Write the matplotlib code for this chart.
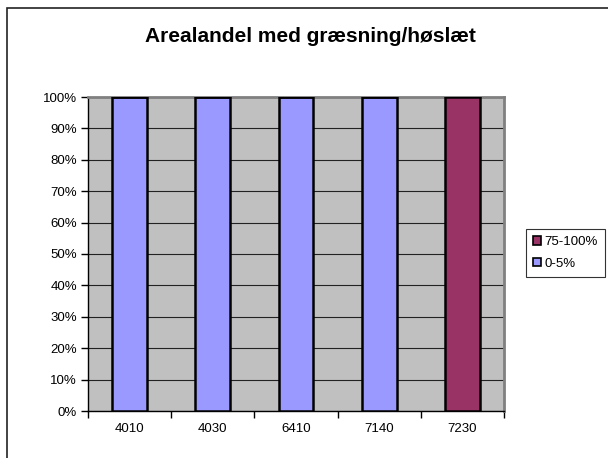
import numpy as np
import matplotlib
matplotlib.use("Agg")
import matplotlib.pyplot as plt
from matplotlib.patches import Rectangle
from matplotlib.ticker import FixedLocator

plt.rcParams['font.family'] = ['Liberation Sans', 'DejaVu Sans']

# data
categories = ['4010', '4030', '6410', '7140', '7230']
share_0_5 = [100, 100, 100, 100, 0]
share_75_100 = [0, 0, 0, 0, 100]
color_0_5 = '#9999FF'
color_75_100 = '#993366'

fig = plt.figure(figsize=(6.08, 4.58), dpi=100)
fig.patch.set_facecolor('white')

# outer chart frame (runs off the right/bottom edge)
fig.add_artist(Rectangle((7 / 608, -0.05), 1.1, 1.05 - 7.5 / 458,
                         transform=fig.transFigure, fill=False,
                         edgecolor='#222222', lw=1.2))

ax = fig.add_axes([88 / 608, 47 / 458, 416 / 608, 314 / 458])
ax.set_facecolor('#C0C0C0')

x = np.arange(len(categories))
bw = 0.42
ax.bar(x, share_0_5, width=bw, color=color_0_5, edgecolor='black', lw=1.8,
       label='0-5%', zorder=3)
ax.bar(x, share_75_100, width=bw, bottom=share_0_5, color=color_75_100,
       edgecolor='black', lw=1.8, label='75-100%', zorder=3)

ax.set_xlim(-0.5, len(categories) - 0.5)
ax.set_ylim(0, 100)
ax.set_yticks(np.arange(0, 101, 10))
ax.set_yticklabels([f'{v}%' for v in range(0, 101, 10)])
ax.yaxis.grid(True, color='#222222', lw=0.8, zorder=1)
ax.set_axisbelow(True)

ax.set_xticks(x)
ax.set_xticklabels(categories)
ax.xaxis.set_minor_locator(FixedLocator(np.arange(-0.5, len(categories), 1)))
ax.tick_params(axis='x', which='major', length=0, pad=9, labelsize=9.5)
ax.tick_params(axis='x', which='minor', length=5, width=1, direction='out')
ax.tick_params(axis='y', length=5, width=1, direction='out', labelsize=9.5, pad=3)

for s in ['left', 'bottom']:
    ax.spines[s].set_color('black')
    ax.spines[s].set_linewidth(1)
for s in ['top', 'right']:
    ax.spines[s].set_color('#808080')
    ax.spines[s].set_linewidth(2)

fig.text(310 / 608, 1 - 36 / 458, 'Arealandel med græsning/høslæt',
         ha='center', va='center', fontsize=15, fontweight='bold')

handles, labels = ax.get_legend_handles_labels()
leg = fig.legend(handles[::-1], labels[::-1], loc='center left',
                 bbox_to_anchor=(526 / 608, 1 - 253 / 458), fontsize=9.5,
                 frameon=True, fancybox=False, edgecolor='black',
                 handlelength=0.6, handleheight=0.6, handletextpad=0.25,
                 borderpad=0.55, labelspacing=0.75, borderaxespad=0)
leg.get_frame().set_linewidth(0.8)
for h in leg.legend_handles:
    h.set_linewidth(1.2)

fig.savefig('out.png', dpi=100)
